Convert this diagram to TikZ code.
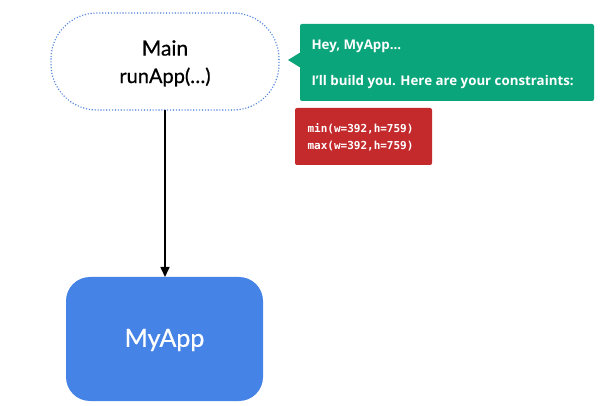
\documentclass[tikz,border=0pt]{standalone}
\usepackage{fontspec}
\setmainfont{Lato}
\newfontfamily\monof{DejaVu Sans Mono}
\newfontfamily\callf{Open Sans}
\newfontfamily\heavyf[FakeBold=0.6]{Lato}
\usetikzlibrary{arrows.meta}
\definecolor{pillblue}{HTML}{5A8AE0}
\definecolor{appblue}{HTML}{4683E6}
\definecolor{callgreen}{HTML}{0BA57B}
\definecolor{boxred}{HTML}{C4292C}
\tikzset{
  pill/.style={draw=pillblue, line width=1.6pt, dash pattern=on 0pt off 2.9pt, line cap=round, rounded corners=46pt, fill=white},
  appbox/.style={fill=appblue, rounded corners=24pt},
  conn/.style={-{Triangle[length=10pt,width=9pt]}, line width=1.6pt, black},
  greenbox/.style={fill=callgreen, rounded corners=2pt},
  redbox/.style={fill=boxred, rounded corners=2pt},
  calltext/.style={anchor=west, font=\callf\bfseries\fontsize{13.3}{15}\selectfont, text=white},
}
\begin{document}
\begin{tikzpicture}[x=1pt,y=-1pt]
\useasboundingbox (0,0) rectangle (600,406);
% Main pill
\draw[pill] (51,13) rectangle (279,110);
\node[font=\heavyf\fontsize{21}{24}\selectfont] (maint) at (165,48) {Main};
\node[font=\heavyf\fontsize{20}{24}\selectfont] (runt) at (165,77) {runApp(…)};
\coordinate (mainbot) at (165,110);
% MyApp box
\fill[appbox] (66,277) rectangle (263,401);
\node[font=\heavyf\fontsize{25}{28}\selectfont, text=white] (myapp) at (164.5,340) {MyApp};
\coordinate (apptop) at (165,277);
\draw[conn] (mainbot) -- (apptop);
% green callout
\fill[greenbox] (300,24) rectangle (594,101);
\fill[callgreen] (301,52) -- (288,60) -- (301,68) -- cycle;
\node[calltext] (hey) at (308,46) {Hey, MyApp...};
\node[calltext] (build) at (308,82) {I’ll build you. Here are your constraints:};
% red box
\fill[redbox] (295,108) rectangle (432,165);
\node[anchor=west, align=left, font=\monof\bfseries\fontsize{11}{17}\selectfont, text=white] (cons) at (304,137.5) {min(w=392,h=759)\\max(w=392,h=759)};
\end{tikzpicture}
\end{document}
